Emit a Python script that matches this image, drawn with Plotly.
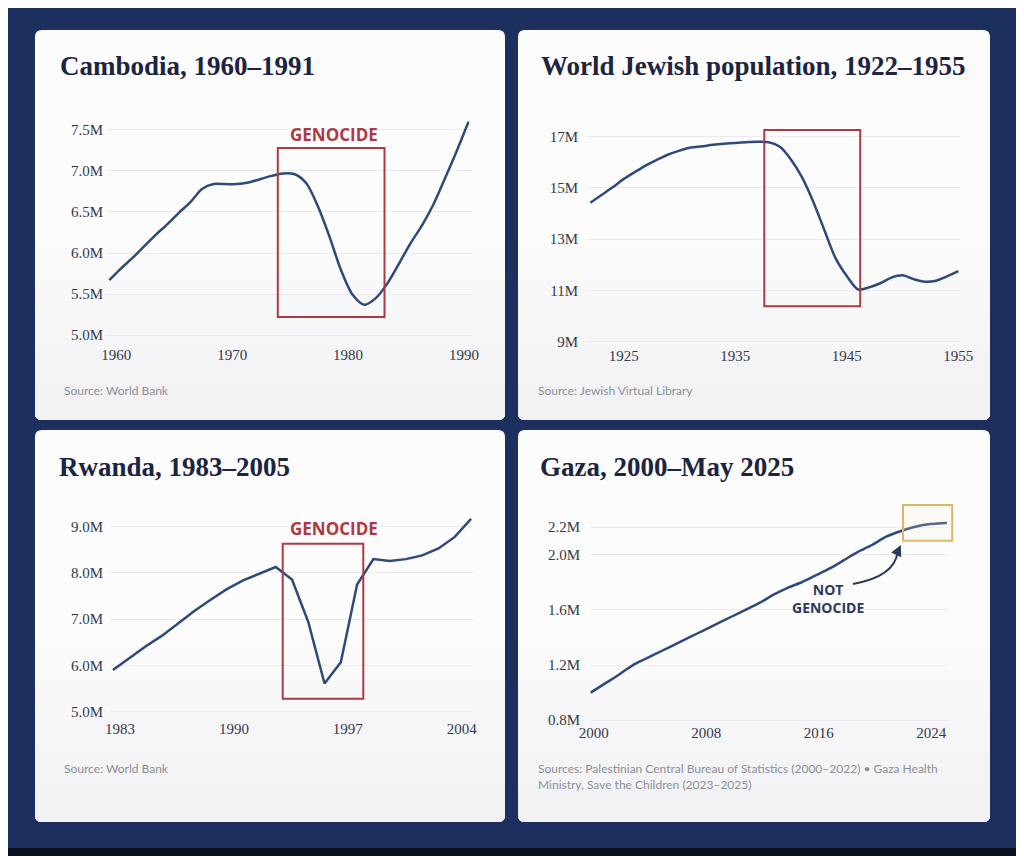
import plotly.graph_objects as go

W, H = 1024, 856
OFF = 8  # the page places the figure 8px from the window's top-left corner

# ---------------- data (population, millions) ----------------
cambodia_years = list(range(1960, 1992))
cambodia_pop = [5.67, 5.81, 5.94, 6.08, 6.22, 6.35, 6.49, 6.62, 6.78, 6.84,
                6.84, 6.84, 6.86, 6.90, 6.94, 6.97, 6.96, 6.85, 6.57, 6.20,
                5.79, 5.49, 5.37, 5.45, 5.63, 5.87, 6.12, 6.34, 6.60, 6.92,
                7.25, 7.60]

jewish_years = list(range(1922, 1956))
jewish_pop = [14.42, 14.72, 15.02, 15.35, 15.62, 15.88, 16.10, 16.30, 16.45, 16.57,
              16.62, 16.68, 16.72, 16.75, 16.78, 16.80, 16.78, 16.60, 16.10, 15.40,
              14.45, 13.34, 12.25, 11.56, 11.04, 11.12, 11.28, 11.50, 11.59, 11.44,
              11.34, 11.38, 11.55, 11.75]

rwanda_years = list(range(1983, 2006))
rwanda_pop = [5.90, 6.15, 6.41, 6.64, 6.91, 7.18, 7.42, 7.65, 7.84, 7.99,
              8.13, 7.86, 6.94, 5.61, 6.07, 7.75, 8.30, 8.26, 8.30, 8.38,
              8.53, 8.78, 9.17]

gaza_years = list(range(2000, 2025)) + [2025.33]
gaza_pop = [1.00, 1.065, 1.13, 1.20, 1.25, 1.30, 1.35, 1.40, 1.45, 1.50,
            1.55, 1.60, 1.65, 1.71, 1.76, 1.80, 1.85, 1.90, 1.96, 2.02,
            2.07, 2.13, 2.17, 2.20, 2.22, 2.23]

titles = ["Cambodia, 1960–1991", "World Jewish population, 1922–1955",
          "Rwanda, 1983–2005", "Gaza, 2000–May 2025"]
sources = ["Source: World Bank", "Source: Jewish Virtual Library", "Source: World Bank",
           "Sources: Palestinian Central Bureau of Statistics (2000–2022) • Gaza Health<br>"
           "Ministry, Save the Children (2023–2025)"]

cambodia_xticks = [1960, 1970, 1980, 1990]
cambodia_yticks = [5.0, 5.5, 6.0, 6.5, 7.0, 7.5]
cambodia_ylabels = ["5.0M", "5.5M", "6.0M", "6.5M", "7.0M", "7.5M"]
jewish_xticks = [1925, 1935, 1945, 1955]
jewish_yticks = [9, 11, 13, 15, 17]
jewish_ylabels = ["9M", "11M", "13M", "15M", "17M"]
rwanda_xticks = [1983, 1990, 1997, 2004]
rwanda_yticks = [5.0, 6.0, 7.0, 8.0, 9.0]
rwanda_ylabels = ["5.0M", "6.0M", "7.0M", "8.0M", "9.0M"]
gaza_xticks = [2000, 2008, 2016, 2024]
gaza_yticks = [0.8, 1.2, 1.6, 2.0, 2.2]
gaza_ylabels = ["0.8M", "1.2M", "1.6M", "2.0M", "2.2M"]

# genocide periods highlighted (years) and box value extents
cambodia_box = (1974.54, 1983.75, 5.22, 7.28)
jewish_box = (1937.6, 1946.2, 10.38, 17.26)
rwanda_box = (1993.43, 1998.38, 5.28, 8.63)
gaza_box = (2022.2, 2025.7, 2.10, 2.36)

# ---------------- styling ----------------
NAVY = "#1c2f5e"
PANEL = "#fcfcfd"
LINE = "#2f4a7a"
RED = "#ad3a42"
GOLD = "#dcb862"
TITLE_C = "#1d2440"
TICK_C = "#33384a"
SRC_C = "#8a8e98"
GRID = "#ebebef"
DARK = "#2b3a5a"


def X(px):
    return (px - OFF) / W


def Y(py):
    return 1 - (py - OFF) / H


def rrect(x0, y0, x1, y1, r):
    return (f"M {X(x0+r)},{Y(y0)} L {X(x1-r)},{Y(y0)} Q {X(x1)},{Y(y0)} {X(x1)},{Y(y0+r)} "
            f"L {X(x1)},{Y(y1-r)} Q {X(x1)},{Y(y1)} {X(x1-r)},{Y(y1)} "
            f"L {X(x0+r)},{Y(y1)} Q {X(x0)},{Y(y1)} {X(x0)},{Y(y1-r)} "
            f"L {X(x0)},{Y(y0+r)} Q {X(x0)},{Y(y0)} {X(x0+r)},{Y(y0)} Z")


def bottom_band(x0, yk, x1, y1, r):
    return (f"M {X(x0)},{Y(yk)} L {X(x1)},{Y(yk)} L {X(x1)},{Y(y1-r)} "
            f"Q {X(x1)},{Y(y1)} {X(x1-r)},{Y(y1)} L {X(x0+r)},{Y(y1)} "
            f"Q {X(x0)},{Y(y1)} {X(x0)},{Y(y1-r)} Z")


tickfont = dict(family="Liberation Serif", size=15, color=TICK_C)

fig = go.Figure()

series = [(cambodia_years, cambodia_pop, "spline"),
          (jewish_years, jewish_pop, "spline"),
          (rwanda_years, rwanda_pop, "linear"),
          (gaza_years, gaza_pop, "spline")]
for i, (xs, ys, shp) in enumerate(series):
    n = "" if i == 0 else str(i + 1)
    fig.add_trace(go.Scatter(x=xs, y=ys, mode="lines", xaxis="x" + n, yaxis="y" + n,
                             line=dict(color=LINE, width=2.5, shape=shp, smoothing=0.8),
                             hoverinfo="skip", showlegend=False))

# axis geometry: (x domain px, x range, y domain px (bottom, top), y range, xticks, yticks, ylabels,
#                 x label shift, x standoff, y standoff)
geo = [
    ((107, 472), (1959.8, 1991.3), (337.5, 115.2), (4.97, 7.68), cambodia_xticks, cambodia_yticks,
     cambodia_ylabels, 7, 6, 3),
    ((587, 960), (1921.7, 1955.15), (344.3, 126.3), (8.9, 17.4), jewish_xticks, jewish_yticks,
     jewish_ylabels, 0, 1, 8),
    ((110, 473), (1982.82, 2005.12), (713.1, 513.8), (4.97, 9.28), rwanda_xticks, rwanda_yticks,
     rwanda_ylabels, 7, 5, 6),
    ((590, 948), (1999.95, 2025.4), (723.0, 496.7), (0.78, 2.42), gaza_xticks, gaza_yticks,
     gaza_ylabels, 3, -1, 9),
]

layout_axes = {}
for i, (xd, xr, yd, yr, xt, yt, yl, xs, xso, yso) in enumerate(geo):
    n = "" if i == 0 else str(i + 1)
    layout_axes["xaxis" + n] = dict(domain=[X(xd[0]), X(xd[1])], range=list(xr), anchor="y" + n,
                                    tickmode="array", tickvals=xt, ticktext=[str(v) for v in xt],
                                    showgrid=False, zeroline=False, showline=False,
                                    ticks="", tickfont=tickfont, ticklabelshift=xs,
                                    ticklabelstandoff=xso, fixedrange=True, automargin=False)
    layout_axes["yaxis" + n] = dict(domain=[Y(yd[0]), Y(yd[1])], range=list(yr), anchor="x" + n,
                                    tickmode="array", tickvals=yt, ticktext=yl, showgrid=True,
                                    gridcolor=GRID, gridwidth=1, zeroline=False, showline=False,
                                    ticks="", tickfont=tickfont, ticklabelstandoff=yso,
                                    fixedrange=True, automargin=False)

shapes = []
# dark strip along the bottom edge
shapes.append(dict(type="rect", xref="paper", yref="paper", x0=0, x1=1, y0=Y(870), y1=Y(848),
                   fillcolor="#0b0f1c", line_width=0, layer="below"))
# panels (white cards, fading to a faint grey toward the bottom)
band_colors = ["#fafafb", "#f8f8fa", "#f6f6f8", "#f4f4f6", "#f2f2f5"]
for (x0, y0, x1, y1) in [(35, 30, 505, 420), (518, 30, 990, 420),
                         (35, 430, 505, 822), (518, 430, 990, 822)]:
    shapes.append(dict(type="path", xref="paper", yref="paper", path=rrect(x0, y0, x1, y1, 7),
                       fillcolor=PANEL, line_width=0, layer="below"))
    hgt = y1 - y0
    for k, c in enumerate(band_colors):
        yk = y0 + hgt * (0.55 + 0.09 * k)
        shapes.append(dict(type="path", xref="paper", yref="paper",
                           path=bottom_band(x0, yk, x1, y1, 7),
                           fillcolor=c, line_width=0, layer="below"))

# genocide boxes
for i, b in enumerate([cambodia_box, jewish_box, rwanda_box]):
    n = "" if i == 0 else str(i + 1)
    shapes.append(dict(type="rect", xref="x" + n, yref="y" + n, x0=b[0], x1=b[1], y0=b[2], y1=b[3],
                       line=dict(color=RED, width=2), fillcolor="rgba(0,0,0,0)", layer="above"))

# gaza highlight box (domain refs so it is not clipped)
gxr = geo[3][1]
gyr = geo[3][3]


def fx(v):
    return (v - gxr[0]) / (gxr[1] - gxr[0])


def fy(v):
    return (v - gyr[0]) / (gyr[1] - gyr[0])


shapes.append(dict(type="rect", xref="x4 domain", yref="y4 domain",
                   x0=fx(gaza_box[0]), x1=fx(gaza_box[1]), y0=fy(gaza_box[2]), y1=fy(gaza_box[3]),
                   line=dict(color=GOLD, width=2), fillcolor="rgba(250,238,205,0.18)", layer="above"))
# curved arrow from label to box
shapes.append(dict(type="path", xref="x4", yref="y4",
                   path="M 2018.64,1.788 Q 2021.6,1.84 2021.82,2.02",
                   line=dict(color=DARK, width=2), layer="above"))

annotations = []
for txt, (px, py) in zip(titles, [(58, 66), (539, 66), (57, 467), (538, 467)]):
    annotations.append(dict(text=f"<b>{txt}</b>", x=X(px), y=Y(py), xref="paper", yref="paper",
                            xanchor="left", yanchor="middle", showarrow=False,
                            font=dict(family="Liberation Serif", size=27, color=TITLE_C)))
for txt, (px, py) in zip(sources, [(62, 381), (536, 381), (62, 759), (536, 759)]):
    annotations.append(dict(text=txt, x=X(px), y=Y(py), xref="paper", yref="paper",
                            xanchor="left", yanchor="top", align="left", showarrow=False,
                            font=dict(family="Lato", size=12, color=SRC_C)))

# GENOCIDE labels
for i, (lx, ly) in enumerate([(1979.4, 7.45), (1941.9, 17.8), (1996.6, 8.97)]):
    n = "" if i == 0 else str(i + 1)
    annotations.append(dict(text="<b>GENOCIDE</b>", x=lx, y=ly, xref="x" + n, yref="y" + n,
                            showarrow=False, xanchor="center", yanchor="middle",
                            font=dict(family="Open Sans", size=17, color=RED)))

annotations.append(dict(text="<b>NOT<br>GENOCIDE</b>", x=2016.9, y=1.68, xref="x4", yref="y4",
                        showarrow=False, xanchor="center", yanchor="middle",
                        font=dict(family="Open Sans", size=14, color=DARK)))
annotations.append(dict(text="", x=2022.05, y=2.07, ax=2021.82, ay=2.02, xref="x4", yref="y4",
                        axref="x4", ayref="y4", showarrow=True, arrowhead=2, arrowsize=1.1,
                        arrowwidth=2, arrowcolor=DARK))

fig.update_layout(width=W, height=H,
                  margin=dict(l=0, r=0, t=0, b=0, pad=0, autoexpand=False),
                  paper_bgcolor=NAVY, plot_bgcolor="rgba(0,0,0,0)",
                  shapes=shapes, annotations=annotations, **layout_axes)

fig.write_html("out.html")
